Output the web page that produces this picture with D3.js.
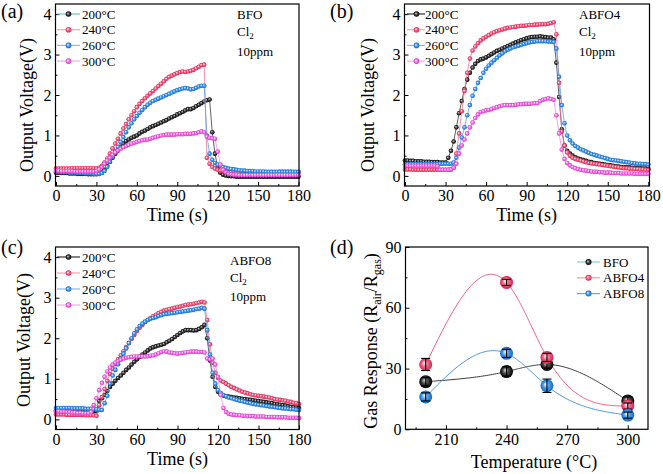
<!DOCTYPE html>
<html><head><meta charset="utf-8">
<script src="https://cdn.jsdelivr.net/npm/d3@7"></script>
<style>body{margin:0;background:#fff}svg{display:block}</style>
</head><body>
<svg id="chart" width="663" height="474"></svg>
<script>
// ---------------- DATA ----------------
const timeStep = 2;                       // sample spacing (s), t = 0..180
const timeTicks = [0,30,60,90,120,150,180];
const timeMinor = [15,45,75,105,135,165];
const voltTicks = [0,1,2,3,4];
const voltMinor = [0.5,1.5,2.5,3.5];
const tempLabels = ["200°C","240°C","260°C","300°C"];

// Panel (a) BFO
const a200 = [0.08,0.08,0.07,0.07,0.07,0.06,0.06,0.06,0.05,0.05,
 0.05,0.05,0.04,0.04,0.04,0.04,0.05,0.08,0.15,0.25,
 0.35,0.45,0.55,0.63,0.72,0.8,0.86,0.9,0.94,0.97,
 1.0,1.05,1.09,1.12,1.16,1.2,1.23,1.26,1.29,1.32,
 1.35,1.38,1.42,1.45,1.48,1.52,1.55,1.58,1.62,1.65,
 1.65,1.68,1.72,1.76,1.8,1.84,1.87,1.89,1.08,0.55,
 0.22,0.08,0.03,0.01,0.0,-0.01,-0.01,-0.02,-0.02,-0.02,
 -0.02,-0.02,-0.02,-0.02,-0.02,-0.02,-0.02,-0.02,-0.02,-0.02,
 -0.02,-0.02,-0.02,-0.02,-0.02,-0.02,-0.02,-0.02,-0.02,-0.02,
 -0.02];
const a240 = [0.18,0.18,0.18,0.18,0.18,0.18,0.19,0.19,0.19,0.19,
 0.19,0.19,0.19,0.19,0.19,0.18,0.2,0.25,0.33,0.43,
 0.55,0.68,0.8,0.92,1.05,1.17,1.28,1.4,1.5,1.6,
 1.7,1.78,1.85,1.92,1.98,2.04,2.1,2.16,2.22,2.28,
 2.34,2.4,2.45,2.48,2.51,2.54,2.57,2.58,2.57,2.58,
 2.6,2.62,2.66,2.7,2.74,2.75,0.45,0.3,0.22,0.18,
 0.15,0.13,0.12,0.11,0.1,0.1,0.1,0.09,0.09,0.09,
 0.09,0.09,0.09,0.09,0.09,0.09,0.09,0.09,0.09,0.09,
 0.09,0.09,0.09,0.1,0.1,0.1,0.1,0.1,0.09,0.09,
 0.09];
const a260 = [0.1,0.1,0.09,0.09,0.09,0.08,0.08,0.08,0.07,0.07,
 0.07,0.06,0.06,0.06,0.05,0.05,0.05,0.07,0.12,0.22,
 0.35,0.47,0.6,0.72,0.84,0.96,1.08,1.2,1.3,1.4,
 1.48,1.56,1.63,1.7,1.76,1.81,1.85,1.88,1.91,1.94,
 1.97,2.0,2.03,2.06,2.09,2.12,2.14,2.16,2.17,2.16,
 2.14,2.15,2.18,2.21,2.23,2.23,1.0,0.55,0.4,0.32,
 0.28,0.25,0.22,0.2,0.18,0.17,0.16,0.15,0.14,0.13,
 0.13,0.12,0.12,0.12,0.11,0.11,0.11,0.11,0.1,0.1,
 0.1,0.1,0.1,0.1,0.1,0.1,0.1,0.1,0.1,0.1,
 0.1];
const a300 = [0.13,0.13,0.12,0.12,0.12,0.12,0.12,0.11,0.11,0.11,
 0.11,0.11,0.11,0.11,0.11,0.12,0.16,0.22,0.3,0.38,
 0.45,0.52,0.58,0.63,0.67,0.71,0.74,0.77,0.8,0.82,
 0.84,0.86,0.88,0.89,0.9,0.92,0.94,0.96,0.98,1.0,
 1.01,1.02,1.02,1.02,1.02,1.03,1.03,1.03,1.04,1.04,
 1.04,1.05,1.06,1.08,1.1,1.08,0.97,0.94,0.93,0.92,
 0.6,0.28,0.15,0.09,0.05,0.04,0.03,0.03,0.02,0.02,
 0.02,0.02,0.02,0.02,0.02,0.02,0.02,0.02,0.02,0.02,
 0.02,0.02,0.02,0.02,0.02,0.02,0.02,0.02,0.02,0.02,
 0.02];

// Panel (b) ABFO4
const b200 = [0.38,0.38,0.37,0.37,0.36,0.36,0.36,0.35,0.35,0.35,
 0.34,0.34,0.34,0.33,0.33,0.33,0.45,0.62,0.85,1.2,
 1.55,1.85,2.15,2.38,2.55,2.68,2.77,2.84,2.88,2.9,
 2.93,2.97,3.01,3.05,3.09,3.12,3.15,3.18,3.21,3.24,
 3.27,3.3,3.33,3.36,3.38,3.4,3.42,3.43,3.44,3.44,
 3.45,3.44,3.43,3.42,3.42,3.38,2.8,1.95,1.15,0.75,
 0.62,0.55,0.5,0.46,0.43,0.41,0.39,0.37,0.35,0.34,
 0.32,0.31,0.3,0.29,0.28,0.27,0.26,0.25,0.24,0.23,
 0.22,0.22,0.21,0.21,0.2,0.2,0.19,0.19,0.18,0.18,
 0.17];
const b240 = [0.16,0.16,0.16,0.15,0.15,0.15,0.15,0.15,0.15,0.15,
 0.15,0.15,0.15,0.15,0.15,0.15,0.15,0.16,0.2,0.55,
 1.05,1.6,2.1,2.55,2.9,3.1,3.2,3.28,3.35,3.4,
 3.44,3.48,3.52,3.55,3.58,3.6,3.62,3.64,3.66,3.67,
 3.68,3.69,3.7,3.71,3.71,3.72,3.73,3.73,3.74,3.74,
 3.75,3.75,3.75,3.76,3.78,3.8,3.5,2.3,1.1,0.75,
 0.58,0.5,0.45,0.42,0.4,0.38,0.36,0.34,0.32,0.31,
 0.3,0.29,0.28,0.27,0.26,0.25,0.24,0.23,0.22,0.21,
 0.2,0.19,0.19,0.18,0.18,0.17,0.17,0.16,0.16,0.15,
 0.15];
const b260 = [0.29,0.29,0.29,0.29,0.29,0.29,0.29,0.29,0.29,0.29,
 0.29,0.29,0.29,0.3,0.3,0.3,0.3,0.3,0.33,0.45,
 0.7,0.95,1.2,1.5,1.75,1.98,2.15,2.3,2.42,2.55,
 2.65,2.73,2.8,2.86,2.92,2.98,3.03,3.08,3.12,3.15,
 3.18,3.2,3.22,3.24,3.26,3.28,3.3,3.31,3.32,3.33,
 3.33,3.33,3.33,3.32,3.32,3.31,3.15,2.45,1.75,1.3,
 1.0,0.88,0.8,0.74,0.7,0.66,0.63,0.6,0.57,0.54,
 0.52,0.5,0.48,0.46,0.44,0.42,0.4,0.39,0.38,0.37,
 0.36,0.35,0.34,0.33,0.32,0.31,0.3,0.3,0.29,0.29,
 0.28];
const b300 = [0.25,0.25,0.25,0.25,0.25,0.25,0.25,0.25,0.25,0.25,
 0.25,0.25,0.24,0.15,0.15,0.15,0.15,0.16,0.2,0.3,
 0.55,0.75,0.9,1.05,1.2,1.32,1.43,1.52,1.58,1.6,
 1.62,1.63,1.65,1.68,1.7,1.72,1.74,1.75,1.75,1.75,
 1.75,1.76,1.77,1.77,1.78,1.78,1.78,1.79,1.8,1.8,
 1.85,1.88,1.9,1.92,1.9,1.88,1.5,1.05,0.65,0.42,
 0.32,0.26,0.22,0.19,0.17,0.15,0.14,0.13,0.12,0.11,
 0.1,0.1,0.09,0.09,0.08,0.08,0.08,0.07,0.07,0.07,
 0.06,0.06,0.06,0.06,0.06,0.05,0.05,0.05,0.05,0.05,
 0.05];

// Panel (c) ABFO8
const c200 = [0.22,0.22,0.21,0.21,0.21,0.2,0.2,0.2,0.2,0.2,
 0.2,0.2,0.2,0.2,0.2,0.2,0.45,0.52,0.6,0.7,
 0.8,0.88,0.95,1.02,1.08,1.15,1.22,1.28,1.35,1.42,
 1.48,1.54,1.6,1.65,1.7,1.75,1.78,1.8,1.82,1.84,
 1.86,1.9,1.94,1.98,2.03,2.08,2.13,2.17,2.2,2.2,
 2.2,2.19,2.2,2.23,2.27,2.33,2.0,1.45,1.05,0.8,
 0.68,0.62,0.59,0.57,0.56,0.55,0.54,0.53,0.52,0.51,
 0.5,0.49,0.48,0.47,0.46,0.45,0.44,0.43,0.42,0.41,
 0.4,0.38,0.37,0.36,0.35,0.34,0.32,0.31,0.3,0.29,
 0.28];
const c240 = [0.12,0.12,0.12,0.12,0.11,0.11,0.11,0.11,0.11,0.11,
 0.11,0.1,0.1,0.1,0.1,0.09,0.35,0.55,0.75,0.95,
 1.12,1.25,1.37,1.48,1.58,1.68,1.78,1.88,1.98,2.08,
 2.18,2.26,2.33,2.4,2.45,2.5,2.54,2.58,2.62,2.65,
 2.68,2.7,2.72,2.73,2.75,2.77,2.78,2.8,2.82,2.83,
 2.84,2.85,2.87,2.88,2.9,2.88,2.45,1.85,1.4,1.15,
 1.02,0.96,0.92,0.88,0.84,0.8,0.77,0.74,0.71,0.68,
 0.66,0.64,0.62,0.6,0.59,0.58,0.57,0.56,0.55,0.54,
 0.52,0.5,0.49,0.48,0.47,0.46,0.44,0.43,0.41,0.4,
 0.38];
const c260 = [0.28,0.28,0.28,0.28,0.28,0.28,0.27,0.27,0.27,0.27,
 0.27,0.26,0.26,0.26,0.25,0.25,0.24,0.23,0.4,0.58,
 0.88,1.08,1.22,1.36,1.5,1.62,1.75,1.88,2.0,2.12,
 2.22,2.3,2.36,2.41,2.45,2.48,2.5,2.52,2.55,2.57,
 2.59,2.6,2.61,2.62,2.63,2.64,2.65,2.66,2.67,2.68,
 2.69,2.7,2.72,2.73,2.75,2.73,2.2,1.6,1.15,0.88,
 0.72,0.65,0.6,0.57,0.54,0.52,0.5,0.48,0.46,0.45,
 0.43,0.41,0.4,0.38,0.37,0.36,0.35,0.34,0.33,0.32,
 0.31,0.3,0.29,0.28,0.27,0.27,0.26,0.25,0.25,0.24,
 0.23];
const c300 = [0.2,0.2,0.19,0.19,0.18,0.18,0.17,0.17,0.16,0.16,
 0.15,0.15,0.15,0.18,0.35,0.52,0.72,0.9,1.05,1.18,
 1.28,1.35,1.4,1.44,1.47,1.5,1.52,1.53,1.54,1.55,
 1.55,1.55,1.55,1.55,1.56,1.57,1.58,1.6,1.63,1.66,
 1.68,1.67,1.65,1.64,1.63,1.62,1.63,1.64,1.65,1.66,
 1.67,1.67,1.67,1.66,1.66,1.65,1.5,1.48,1.5,1.35,
 1.05,0.6,0.28,0.18,0.14,0.12,0.11,0.1,0.1,0.09,
 0.09,0.08,0.08,0.08,0.07,0.07,0.07,0.07,0.06,0.06,
 0.06,0.06,0.05,0.05,0.05,0.05,0.04,0.04,0.04,0.04,
 0.03];

// Panel (d) gas response
const tempC = [200,240,260,300];
const tempTicks = [210,240,270,300];
const tempMinor = [195,225,255,285];
const respTicks = [0,30,60,90];
const respMinor = [15,45,75];
const materials = ["BFO","ABFO4","ABFO8"];
const respBFO   = [23.5,28.5,32,14];
const respABFO4 = [32,72.5,35.5,11.5];
const respABFO8 = [16,37.5,21.5,7];
const errBFO   = [2,2.3,1.8,2];
const errABFO4 = [3,1.5,2,1.5];
const errABFO8 = [2,2,3.3,1.5];

// ---------------- STYLE ----------------
const FONT = "'Liberation Serif','Times New Roman',Times,serif";
const lineCol = ["#3a3a3a","#f27a92","#5a9de8","#f08ae8"];
const gradId  = ["gk","gr","gb","gm"];

const svg = d3.select("#chart");
svg.append("rect").attr("width",663).attr("height",474).attr("fill","#fff");
const defs = svg.append("defs");
function sphere(id, mid, edge, hi){
  const g = defs.append("radialGradient").attr("id",id)
    .attr("cx","50%").attr("cy","50%").attr("r","50%").attr("fx","38%").attr("fy","38%");
  g.append("stop").attr("offset","0%").attr("stop-color",hi);
  g.append("stop").attr("offset","45%").attr("stop-color",mid);
  g.append("stop").attr("offset","100%").attr("stop-color",edge);
}
sphere("gk","#4a4a4a","#000","#d8d8d8");
sphere("gr","#f36a8c","#d9204f","#fff");
sphere("gb","#4d9ef0","#1268c8","#fff");
sphere("gm","#f47eea","#d830c8","#fff");

const time = d3.range(0, 180 + timeStep/2, timeStep);

function styleAxis(sel, size){
  sel.select(".domain").remove();
  sel.selectAll("text").attr("font-family",FONT).attr("font-size",size).attr("fill","#000");
  sel.selectAll("line").attr("stroke","#000").attr("stroke-width",1);
}

function drawFrame(g, box, x, y, xt, xm, yt, ym){
  g.append("g").attr("transform",`translate(0,${box.y1})`)
    .call(d3.axisBottom(x).tickValues(xm).tickSize(-2).tickFormat(()=>""))
    .call(s=>styleAxis(s,16));
  g.append("g").attr("transform",`translate(0,${box.y1})`)
    .call(d3.axisBottom(x).tickValues(xt).tickSize(-4).tickPadding(4).tickFormat(d3.format("d")))
    .call(s=>styleAxis(s,16));
  g.append("g").attr("transform",`translate(${box.x0},0)`)
    .call(d3.axisLeft(y).tickValues(ym).tickSize(-2).tickFormat(()=>""))
    .call(s=>styleAxis(s,16));
  g.append("g").attr("transform",`translate(${box.x0},0)`)
    .call(d3.axisLeft(y).tickValues(yt).tickSize(-4).tickPadding(4).tickFormat(d3.format("d")))
    .call(s=>styleAxis(s,16));
  g.append("rect").attr("x",box.x0).attr("y",box.y0)
    .attr("width",box.x1-box.x0).attr("height",box.y1-box.y0)
    .attr("fill","none").attr("stroke","#000").attr("stroke-width",1.2);
}

function addText(g, x, y, str, size, anchor){
  return g.append("text").attr("x",x).attr("y",y).attr("font-family",FONT)
    .attr("font-size",size).attr("text-anchor",anchor||"start").attr("fill","#000").text(str);
}

function drawTimePanel(cfg){
  const g = svg.append("g");
  const box = cfg.box;
  const x = d3.scaleLinear().domain([0,180]).range(cfg.xr);
  const y = d3.scaleLinear().domain([-0.25,4.25]).range([box.y1, box.y0]);
  const line = d3.line().x(d=>x(d[0])).y(d=>y(d[1]));
  cfg.series.forEach((vals,i)=>{
    const pts = vals.map((v,j)=>[time[j], v]);
    g.append("path").attr("d",line(pts)).attr("fill","none")
      .attr("stroke",lineCol[i]).attr("stroke-width",0.8);
    g.append("g").selectAll("circle").data(pts).join("circle")
      .attr("cx",d=>x(d[0])).attr("cy",d=>y(d[1])).attr("r",2.3)
      .attr("fill",`url(#${gradId[i]})`);
  });
  drawFrame(g, box, x, y, timeTicks, timeMinor, voltTicks, voltMinor);
  const L = cfg.legend;
  tempLabels.forEach((lab,i)=>{
    const yy = L.y0 + i*L.dy;
    g.append("line").attr("x1",L.l0).attr("x2",L.l1).attr("y1",yy).attr("y2",yy)
      .attr("stroke",L.lineCols[i]).attr("stroke-width",1.2);
    g.append("circle").attr("cx",L.m).attr("cy",yy).attr("r",2.8).attr("fill",`url(#${gradId[i]})`);
    addText(g, L.t, yy+4.5, lab, 13);
  });
  const A = cfg.note;
  addText(g, A.x, A.y[0]+4.5, cfg.material, 13);
  const cl = addText(g, A.x, A.y[1]+4.5, "Cl", 13);
  cl.append("tspan").attr("font-size",9).attr("dy",3).text("2");
  addText(g, A.x, A.y[2]+4.5, "10ppm", 13);
  addText(g, (cfg.xr[0]+cfg.xr[1])/2, cfg.xTitleY, "Time (s)", 18, "middle");
  g.append("text").attr("transform",`translate(${cfg.yTitleX},${cfg.yTitleY}) rotate(-90)`)
    .attr("font-family",FONT).attr("font-size",18).attr("text-anchor","middle").text("Output Voltage(V)");
  addText(g, cfg.tag[0], cfg.tag[1], cfg.tagText, 20);
}

const legA = ["#6cc9c1","#f6a3a9","#8ab8ee","#f0a8ee"];
const legB = ["#333333","#f6a3a9","#8ab8ee","#f0a8ee"];

drawTimePanel({
  series:[a200,a240,a260,a300], material:"BFO", tagText:"(a)", tag:[1,18],
  box:{x0:55.5,x1:299,y0:4,y1:186}, xr:[56,298.5],
  legend:{y0:14,dy:15.7,l0:57,l1:80,m:68.5,t:82,lineCols:legA},
  note:{x:237,y:[14,31,51]}, xTitleY:221, yTitleX:33, yTitleY:105
});
drawTimePanel({
  series:[b200,b240,b260,b300], material:"ABFO4", tagText:"(b)", tag:[330,18],
  box:{x0:404.5,x1:649.5,y0:4,y1:186}, xr:[405,648.3],
  legend:{y0:14,dy:15.7,l0:407,l1:425,m:416.5,t:425,lineCols:legB},
  note:{x:579,y:[14,31,51]}, xTitleY:221, yTitleX:374, yTitleY:105
});
drawTimePanel({
  series:[c200,c240,c260,c300], material:"ABFO8", tagText:"(c)", tag:[1,254],
  box:{x0:55.5,x1:299,y0:247,y1:429.5}, xr:[56,299],
  legend:{y0:257,dy:16,l0:57,l1:80,m:68.5,t:82,lineCols:legB},
  note:{x:230,y:[260,277,296]}, xTitleY:465, yTitleX:30, yTitleY:340
});

// ---------------- Panel (d) ----------------
function naturalSpline(xs, ys, n){
  const k = xs.length-1;
  const h = d3.range(k).map(i=>xs[i+1]-xs[i]);
  const a=[],b=[],c=[],r=[];
  for(let i=1;i<k;i++){
    a.push(h[i-1]); b.push(2*(h[i-1]+h[i])); c.push(h[i]);
    r.push(6*((ys[i+1]-ys[i])/h[i]-(ys[i]-ys[i-1])/h[i-1]));
  }
  const m=r.length;
  for(let i=1;i<m;i++){const w=a[i]/b[i-1]; b[i]-=w*c[i-1]; r[i]-=w*r[i-1];}
  const sol=new Array(m);
  sol[m-1]=r[m-1]/b[m-1];
  for(let i=m-2;i>=0;i--) sol[i]=(r[i]-c[i]*sol[i+1])/b[i];
  const M=[0,...sol,0];
  const pts=[];
  for(let i=0;i<k;i++){
    for(let s=(i?1:0);s<=n;s++){
      const t=xs[i]+h[i]*s/n;
      const A=(xs[i+1]-t)/h[i], B=(t-xs[i])/h[i];
      pts.push([t, A*ys[i]+B*ys[i+1]+((A*A*A-A)*M[i]+(B*B*B-B)*M[i+1])*h[i]*h[i]/6]);
    }
  }
  return pts;
}
{
  const g = svg.append("g");
  const box = {x0:405.5,x1:648,y0:247,y1:429.3};
  const x = d3.scaleLinear().domain([190,310]).range([box.x0,box.x1]);
  const y = d3.scaleLinear().domain([0,90]).range([box.y1,box.y0]);
  const resp = [respBFO,respABFO4,respABFO8];
  const errs = [errBFO,errABFO4,errABFO8];
  const dCurve = ["#3c3c3c","#f0608a","#4d96ea"];
  const dGrad = ["gk","gr","gb"];
  const line = d3.line().x(d=>x(d[0])).y(d=>y(d[1]));
  resp.forEach((vals,i)=>{
    g.append("path").attr("d",line(naturalSpline(tempC,vals,40)))
      .attr("fill","none").attr("stroke",dCurve[i]).attr("stroke-width",1);
  });
  resp.forEach((vals,i)=>{
    const pts = vals.map((v,j)=>({t:tempC[j],v,e:errs[i][j]}));
    const sg = g.append("g");
    sg.selectAll("circle").data(pts).join("circle")
      .attr("cx",d=>x(d.t)).attr("cy",d=>y(d.v)).attr("r",6.5)
      .attr("fill",`url(#${dGrad[i]})`);
    pts.forEach(d=>{
      const cx=x(d.t), y0=y(d.v-d.e), y1=y(d.v+d.e);
      sg.append("line").attr("x1",cx).attr("x2",cx).attr("y1",y0).attr("y2",y1).attr("stroke","#000").attr("stroke-width",1.1);
      [y0,y1].forEach(yy=>sg.append("line").attr("x1",cx-4.5).attr("x2",cx+4.5).attr("y1",yy).attr("y2",yy).attr("stroke","#000").attr("stroke-width",1.1));
    });
  });
  drawFrame(g, box, x, y, tempTicks, tempMinor, respTicks, respMinor);
  const legD = ["#7fd6d6","#f4a090","#6aa6ee"];
  materials.forEach((lab,i)=>{
    const yy = 262 + i*15.8;
    g.append("line").attr("x1",577).attr("x2",600).attr("y1",yy).attr("y2",yy)
      .attr("stroke",legD[i]).attr("stroke-width",1.2);
    g.append("circle").attr("cx",588.5).attr("cy",yy).attr("r",3).attr("fill",`url(#${dGrad[i]})`);
    addText(g, 603, yy+4.5, lab, 13);
  });
  addText(g, 534, 468, "Temperature (°C)", 18, "middle");
  const yt = g.append("text").attr("transform",`translate(377,341) rotate(-90)`)
    .attr("font-family",FONT).attr("font-size",18).attr("text-anchor","middle");
  yt.append("tspan").text("Gas Response (R");
  yt.append("tspan").attr("font-size",12).attr("dy",4).text("air");
  yt.append("tspan").attr("dy",-4).text("/R");
  yt.append("tspan").attr("font-size",12).attr("dy",4).text("gas");
  yt.append("tspan").attr("dy",-4).text(")");
  addText(g, 330, 254, "(d)", 20);
}
</script>
</body></html>
